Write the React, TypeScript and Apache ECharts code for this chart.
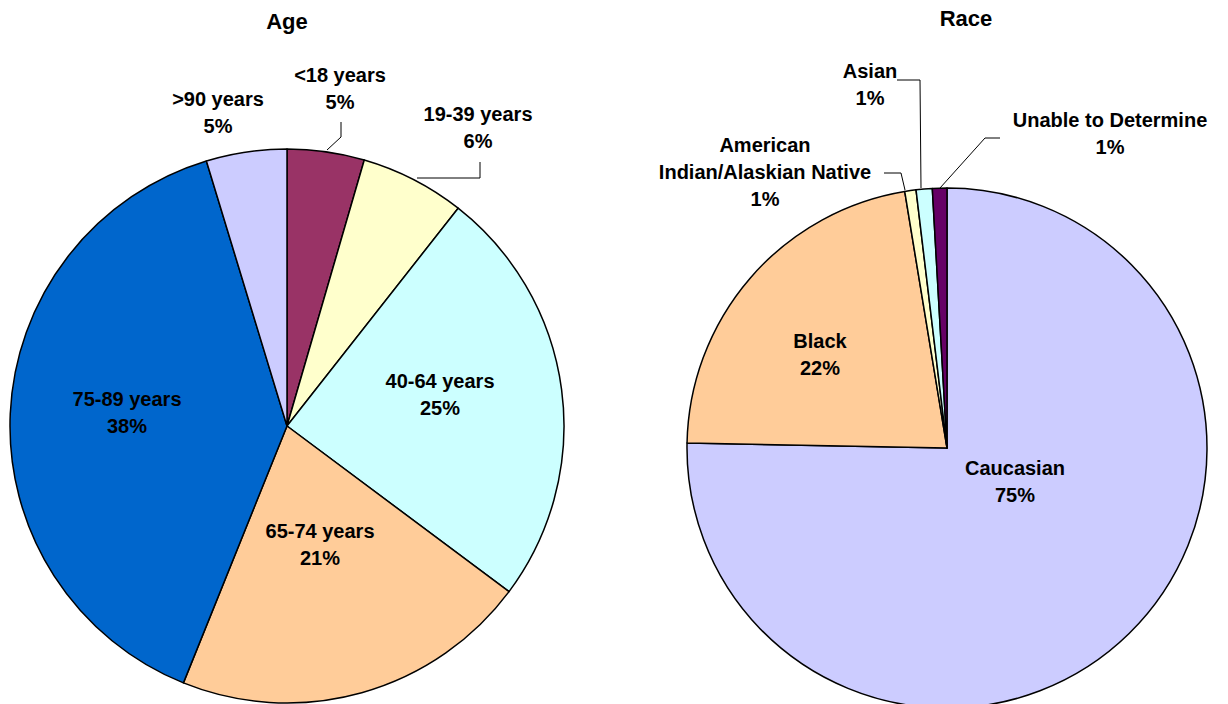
import React, { useEffect, useRef } from "react";
import * as echarts from "echarts";

const ageCategories = ["<18 years", "19-39 years", "40-64 years", "65-74 years", "75-89 years", ">90 years"];
const ageValues = [4.5, 6.1, 24.6, 20.9, 39.2, 4.7];
const agePctLabels = ["5%", "6%", "25%", "21%", "38%", "5%"];
const ageColors = ["#993366", "#FFFFCC", "#CCFFFF", "#FFCC99", "#0066CC", "#CCCCFF"];

const raceCategories = ["Caucasian", "Black", "American\nIndian/Alaskian Native", "Asian", "Unable to Determine"];
const raceValues = [75.3, 22.1, 0.7, 1.0, 0.9];
const racePctLabels = ["75%", "22%", "1%", "1%", "1%"];
const raceColors = ["#CCCCFF", "#FFCC99", "#FFFFCC", "#CCFFFF", "#660066"];

// label placements (centre of label block) and leader lines
const ageLabelPos: [number, number][] = [[340, 88], [478, 127], [440, 394], [320, 544], [127, 412], [218, 112]];
const ageLeaders: (number[][] | null)[] = [
  [[327, 150], [341, 137], [341, 122]],
  [[417, 178], [480, 178], [480, 162]],
  null, null, null, null,
];
const raceLabelPos: [number, number][] = [[1015, 481], [820, 354], [765, 172], [870, 84], [1110, 133]];
const raceLeaders: (number[][] | null)[] = [
  null, null,
  [[905, 190], [901, 173], [884, 173]],
  [[921, 188], [920, 80], [897, 80]],
  [[940, 188], [985, 138], [1000, 138]],
];

const FONT = "Liberation Sans, Arial, sans-serif";

function makeData(names: string[], values: number[], pcts: string[], colors: string[], leaders: (number[][] | null)[]) {
  return names.map((n, i) => ({
    name: n,
    value: values[i],
    pct: pcts[i],
    itemStyle: { color: colors[i] },
    labelLine: { show: !!leaders[i] },
  }));
}

export default function App() {
  const ref = useRef<HTMLDivElement>(null);
  useEffect(() => {
    document.body.style.margin = "0";
    const chart = echarts.init(ref.current!, null, { renderer: "svg" });
    const labelCommon = {
      show: true,
      position: "outside",
      formatter: (p: any) => `${p.name}\n${p.data.pct}`,
      color: "#000",
      fontFamily: FONT,
      fontWeight: "bold",
      fontSize: 20,
      lineHeight: 27,
      align: "center",
    };
    const mkLayout = (pos: [number, number][], leaders: (number[][] | null)[]) => (params: any) => {
      const i = params.dataIndex;
      const o: any = { x: pos[i][0], y: pos[i][1], align: "center", verticalAlign: "middle" };
      if (leaders[i]) o.labelLinePoints = leaders[i];
      return o;
    };
    const titleStyle = { fontFamily: "Liberation Sans Narrow, Liberation Sans, Arial", fontWeight: "bold", fontSize: 22, fill: "#000", textAlign: "center", textVerticalAlign: "middle" };
    chart.setOption({
      animation: false,
      graphic: [
        { type: "text", x: 287, y: 21, style: { ...titleStyle, text: "Age" } },
        { type: "text", x: 966, y: 18, style: { ...titleStyle, text: "Race" } },
      ],
      series: [
        {
          type: "pie",
          center: [287, 426],
          radius: 277,
          startAngle: 90,
          clockwise: true,
          avoidLabelOverlap: false,
          silent: true,
          itemStyle: { borderColor: "#000", borderWidth: 1.5 },
          label: labelCommon,
          labelLine: { lineStyle: { color: "#000", width: 1 } },
          labelLayout: mkLayout(ageLabelPos, ageLeaders),
          data: makeData(ageCategories, ageValues, agePctLabels, ageColors, ageLeaders),
        },
        {
          type: "pie",
          center: [947, 448],
          radius: 260,
          startAngle: 90,
          clockwise: true,
          avoidLabelOverlap: false,
          silent: true,
          itemStyle: { borderColor: "#000", borderWidth: 1.5 },
          label: labelCommon,
          labelLine: { lineStyle: { color: "#000", width: 1 } },
          labelLayout: mkLayout(raceLabelPos, raceLeaders),
          data: makeData(raceCategories, raceValues, racePctLabels, raceColors, raceLeaders),
        },
      ],
    });
    return () => chart.dispose();
  }, []);
  return <div ref={ref} style={{ width: 1228, height: 704 }} />;
}
